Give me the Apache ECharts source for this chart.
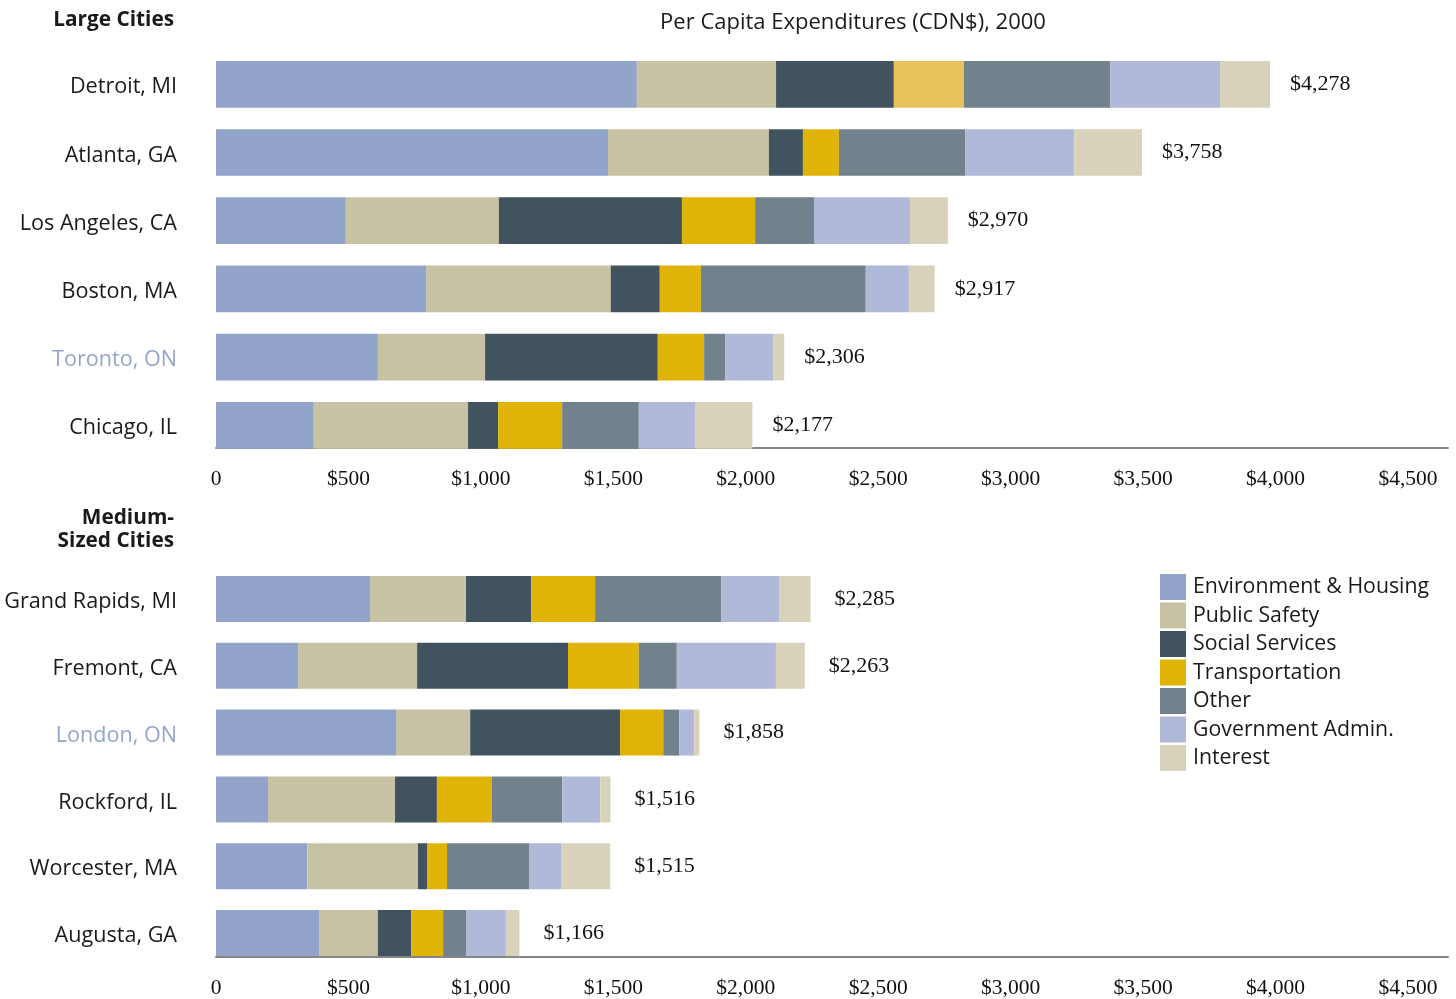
<!DOCTYPE html>
<html>
<head>
<meta charset="utf-8">
<script src="https://cdn.jsdelivr.net/npm/echarts@6/dist/echarts.min.js"></script>
<style>
  html, body { margin: 0; padding: 0; background: #ffffff; }
  #chart { width: 1456px; height: 999px; }
</style>
</head>
<body>
<div id="chart"></div>
<script>
// Spending categories, in stacking order (left to right)
const categoryNames = ['Environment & Housing', 'Public Safety', 'Social Services', 'Transportation', 'Other', 'Government Admin.', 'Interest'];

// Large cities (per capita, CDN$)
const largeCities = ['Detroit, MI', 'Atlanta, GA', 'Los Angeles, CA', 'Boston, MA', 'Toronto, ON', 'Chicago, IL'];
const largeTotals = [4278, 3758, 2970, 2917, 2306, 2177];
const largeEnvHousing = [1708, 1591, 527, 853, 657, 397];
const largePublicSafety = [565, 653, 621, 749, 435, 626];
const largeSocialServices = [478, 138, 743, 199, 701, 122];
const largeTransportation = [284, 146, 297, 167, 188, 260];
const largeOther = [594, 512, 239, 669, 85, 311];
const largeGovAdmin = [446, 443, 390, 175, 195, 228];
const largeInterest = [203, 275, 153, 105, 45, 233];

// Medium-sized cities (per capita, CDN$)
const mediumCities = ['Grand Rapids, MI', 'Fremont, CA', 'London, ON', 'Rockford, IL', 'Worcester, MA', 'Augusta, GA'];
const mediumTotals = [2285, 2263, 1858, 1516, 1515, 1166];
const mediumEnvHousing = [592, 316, 692, 200, 351, 396];
const mediumPublicSafety = [369, 457, 285, 488, 425, 226];
const mediumSocialServices = [250, 580, 576, 161, 35, 128];
const mediumTransportation = [246, 272, 166, 211, 77, 123];
const mediumOther = [485, 146, 61, 271, 315, 88];
const mediumGovAdmin = [222, 381, 58, 146, 123, 153];
const mediumInterest = [121, 111, 20, 39, 189, 52];

// Tick labels along the dollar axis
const tickValues = [0, 500, 1000, 1500, 2000, 2500, 3000, 3500, 4000, 4500];

// Canadian cities get the accent label colour
const canadianCities = ['Toronto, ON', 'London, ON'];

const categoryColors = ['#93a4cb', '#c7c2a3', '#41535e', '#dfb406', '#71828c', '#b0b9d8', '#d8d2bb'];
const SANS = '"Open Sans", "Noto Sans", sans-serif';
const SERIF = '"Liberation Serif", "DejaVu Serif", serif';
const TEXT = '#1a1a1a';

function money(v) {
  return '$' + v.toLocaleString('en-US');
}

function panelSeries(valueLists, totals, cities, xIdx, yIdx, stack, barWidth, labelGap) {
  return valueLists.map((vals, i) => ({
    name: categoryNames[i],
    type: 'bar',
    stack: stack,
    xAxisIndex: xIdx,
    yAxisIndex: yIdx,
    barWidth: barWidth,
    itemStyle: { color: categoryColors[i] },
    emphasis: { disabled: true },
    data: vals.map((v, j) => {
      // Detroit's transit block is printed in a lighter gold
      if (i === 3 && cities[j] === 'Detroit, MI') {
        return { value: v, itemStyle: { color: '#e7c35a' } };
      }
      return v;
    }),
    label: i === valueLists.length - 1 ? {
      show: true,
      position: 'right',
      distance: labelGap,
      formatter: p => money(totals[p.dataIndex]),
      fontFamily: SERIF,
      fontSize: 22,
      color: '#111'
    } : { show: false }
  }));
}

function dataAxis(gridIndex, max) {
  return {
    type: 'value', gridIndex: gridIndex, min: 0, max: max,
    show: false, position: 'top', splitLine: { show: false }
  };
}

function tickAxis(gridIndex, offset) {
  return {
    type: 'value', gridIndex: gridIndex, position: 'bottom', offset: offset,
    min: 0, max: 4651, interval: 500,
    axisLine: { show: true, lineStyle: { color: '#858585', width: 2 } },
    axisTick: { show: false },
    splitLine: { show: false },
    axisLabel: {
      margin: 20,
      fontFamily: SERIF,
      fontSize: 21.5,
      color: '#111',
      formatter: v => tickValues.indexOf(v) < 0 ? '' : (v === 0 ? '0' : money(v))
    }
  };
}

function cityAxis(gridIndex, cities) {
  const nameStyle = { fontFamily: SANS, fontSize: 21.6, padding: [6, 0, 0, 0] };
  return {
    type: 'category', gridIndex: gridIndex, data: cities, inverse: true,
    axisLine: { show: false }, axisTick: { show: false }, splitLine: { show: false },
    axisLabel: {
      margin: 39,
      formatter: (value) => (canadianCities.indexOf(value) >= 0 ? '{ca|' : '{us|') + value + '}',
      rich: {
        us: Object.assign({ color: TEXT }, nameStyle),
        ca: Object.assign({ color: '#94a5cc' }, nameStyle)
      }
    }
  };
}

const chart = echarts.init(document.getElementById('chart'), null, { renderer: 'canvas' });

chart.setOption({
  animation: false,
  backgroundColor: '#ffffff',
  grid: [
    { left: 216, right: 8, top: 50.2, height: 409.2 },
    { left: 216, right: 8, top: 565.5, height: 402.3 }
  ],
  xAxis: [
    dataAxis(0, 5000),
    tickAxis(0, -11.4),
    dataAxis(1, 4735),
    tickAxis(1, -9.5)
  ],
  yAxis: [
    cityAxis(0, largeCities),
    cityAxis(1, mediumCities)
  ],
  legend: {
    data: categoryNames,
    orient: 'vertical',
    left: 1160,
    top: 574,
    padding: 0,
    itemWidth: 26,
    itemHeight: 26,
    itemGap: 2.5,
    icon: 'rect',
    selectedMode: false,
    textStyle: { fontFamily: SANS, fontSize: 21.3, color: TEXT, padding: [0, 0, 0, 2] }
  },
  graphic: [
    {
      type: 'text', x: 853, y: 23,
      style: { text: 'Per Capita Expenditures (CDN$), 2000', font: '22px ' + SANS, fill: TEXT, align: 'center', verticalAlign: 'middle' }
    },
    {
      type: 'text', x: 174, y: 20,
      style: { text: 'Large Cities', font: 'bold 20.8px ' + SANS, fill: TEXT, align: 'right', verticalAlign: 'middle' }
    },
    {
      type: 'text', x: 174, y: 530,
      style: { text: 'Medium-\nSized Cities', font: 'bold 20.8px ' + SANS, fill: TEXT, align: 'right', verticalAlign: 'middle', lineHeight: 23 }
    }
  ],
  series: [
    ...panelSeries([largeEnvHousing, largePublicSafety, largeSocialServices, largeTransportation, largeOther, largeGovAdmin, largeInterest],
      largeTotals, largeCities, 0, 0, 'large', 46.7, 20),
    ...panelSeries([mediumEnvHousing, mediumPublicSafety, mediumSocialServices, mediumTransportation, mediumOther, mediumGovAdmin, mediumInterest],
      mediumTotals, mediumCities, 2, 1, 'medium', 46, 24)
  ]
});
</script>
</body>
</html>
